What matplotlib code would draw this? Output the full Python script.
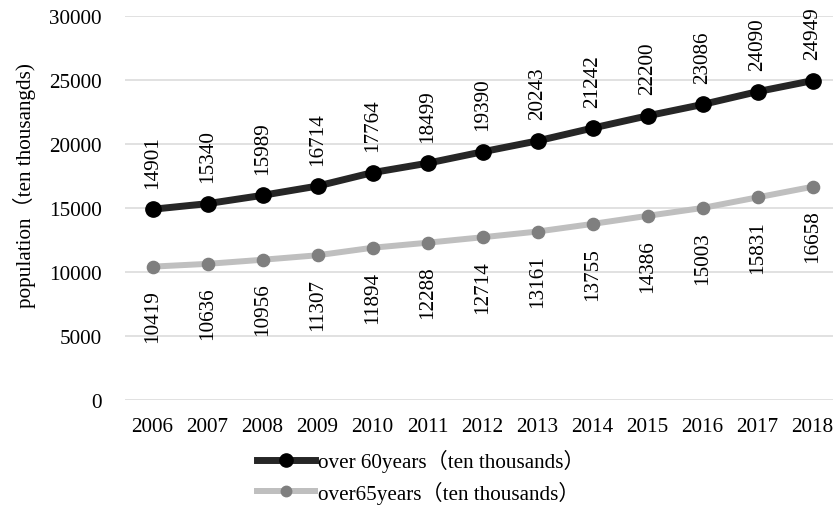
import matplotlib
matplotlib.use("Agg")
import matplotlib.pyplot as plt
from matplotlib.lines import Line2D

plt.rcParams['font.family'] = ['Liberation Serif', 'Noto Sans CJK SC', 'DejaVu Sans']

years = ['2006', '2007', '2008', '2009', '2010', '2011', '2012',
         '2013', '2014', '2015', '2016', '2017', '2018']
over60 = [14901, 15340, 15989, 16714, 17764, 18499, 19390,
          20243, 21242, 22200, 23086, 24090, 24949]
over65 = [10419, 10636, 10956, 11307, 11894, 12288, 12714,
          13161, 13755, 14386, 15003, 15831, 16658]
yticks = [0, 5000, 10000, 15000, 20000, 25000, 30000]
label60 = 'over 60years（ten thousands）'
label65 = 'over65years（ten thousands）'
ylabel = 'population（ten thousangds)'

W, H = 833, 506
fig = plt.figure(figsize=(W / 100, H / 100), dpi=100)
ax = fig.add_axes([125 / W, 105 / H, 715 / W, 384 / H])

x = list(range(len(years)))
fs = 15.2

ax.plot(x, over60, color='#262626', lw=5, marker='o', markersize=11,
        markerfacecolor='black', markeredgecolor='black', zorder=3, solid_capstyle='round')
ax.plot(x, over65, color='#BFBFBF', lw=4.3, marker='o', markersize=8.8,
        markerfacecolor='#7F7F7F', markeredgecolor='#7F7F7F', zorder=3, solid_capstyle='round')

for xi, v in zip(x, over60):
    ax.annotate(str(v), (xi, v), xytext=(0, 15.5), textcoords='offset points',
                rotation=90, ha='center', va='bottom', fontsize=fs, color='black')
for xi, v in zip(x, over65):
    ax.annotate(str(v), (xi, v), xytext=(0, -16.5), textcoords='offset points',
                rotation=90, ha='center', va='top', fontsize=fs, color='black')

ax.set_xlim(-0.5, 12.5)
ax.set_ylim(0, 30000)
ax.set_yticks(yticks)
ax.set_yticklabels([str(t) for t in yticks], fontsize=fs)
ax.set_xticks(x)
ax.set_xticklabels(years, fontsize=fs)
ax.tick_params(axis='both', length=0)
ax.tick_params(axis='y', pad=17)
ax.tick_params(axis='x', pad=12)
ax.grid(axis='y', color='#D9D9D9', lw=1.1)
ax.set_axisbelow(True)
for s in ax.spines.values():
    s.set_visible(False)

fig.text(24 / W, 1 - 186 / H, ylabel, rotation=90, ha='center', va='center', fontsize=fs)

handles = [
    Line2D([], [], color='#262626', lw=5, marker='o', markersize=9.5,
           markerfacecolor='black', markeredgecolor='black'),
    Line2D([], [], color='#BFBFBF', lw=4.3, marker='o', markersize=7.5,
           markerfacecolor='#7F7F7F', markeredgecolor='#7F7F7F'),
]
fig.legend(handles, [label60, label65], loc='upper left',
           bbox_to_anchor=(257 / W, 1 - 450 / H), frameon=False, fontsize=fs,
           handlelength=2.75, handletextpad=0.15, labelspacing=0.4,
           borderaxespad=0, borderpad=0)

fig.savefig('out.png', dpi=100)
